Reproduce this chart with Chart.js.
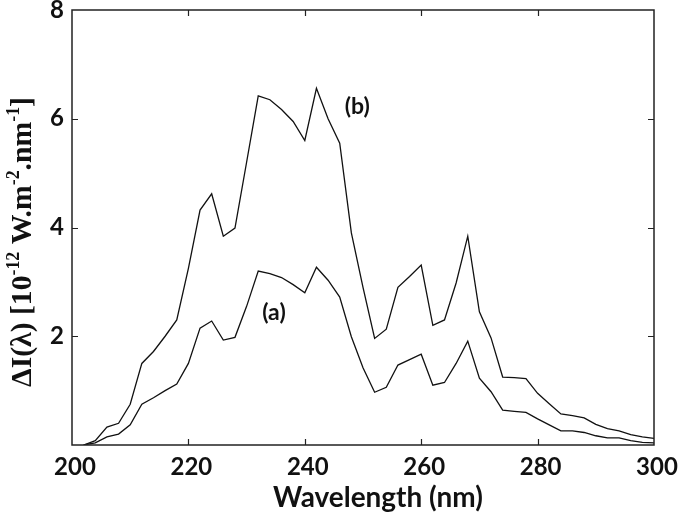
<!DOCTYPE html>
<html>
<head>
<meta charset="utf-8">
<script src="https://cdn.jsdelivr.net/npm/chart.js@4.4.1/dist/chart.umd.min.js"></script>
<style>
  html, body { margin: 0; padding: 0; background: #fff; }
  canvas { display: block; }
</style>
</head>
<body>
<canvas id="spectrum" width="685" height="515"></canvas>
<script>
// wavelength grid (nm)
const wavelength = [202, 204, 206, 208, 210, 212, 214, 216, 218, 220, 222, 224, 226, 228, 230,
    232, 234, 236, 238, 240, 242, 244, 246, 248, 250, 252, 254, 256, 258, 260, 262, 264, 266,
    268, 270, 272, 274, 276, 278, 280, 282, 284, 286, 288, 290, 292, 294, 296, 298, 300];

// curve (a)
const seriesA = [0, 0.04, 0.15, 0.2, 0.37, 0.75, 0.87, 1.0, 1.12, 1.5, 2.15, 2.28, 1.93, 1.98, 2.55,
    3.2, 3.15, 3.08, 2.95, 2.8, 3.27, 3.03, 2.72, 1.99, 1.42, 0.97, 1.06, 1.47, 1.57, 1.67, 1.1, 1.15, 1.5,
    1.91, 1.23, 0.98, 0.64, 0.62, 0.6, 0.48, 0.37, 0.26, 0.26, 0.23, 0.17, 0.13, 0.13, 0.08, 0.05, 0.04];

// curve (b)
const seriesB = [0, 0.08, 0.33, 0.4, 0.75, 1.5, 1.72, 2.0, 2.3, 3.25, 4.32, 4.62, 3.84, 3.99, 5.2,
    6.42, 6.35, 6.17, 5.95, 5.6, 6.56, 6.0, 5.55, 3.9, 2.9, 1.96, 2.13, 2.9, 3.1, 3.31, 2.2, 2.3, 2.98,
    3.84, 2.45, 1.97, 1.25, 1.24, 1.22, 0.95, 0.76, 0.57, 0.54, 0.5, 0.38, 0.3, 0.26, 0.19, 0.15, 0.12];

const xTicks = [200, 220, 240, 260, 280, 300];
const yTicks = [2, 4, 6, 8];

// curve labels, placed in data units
const curveLabels = [
    { text: '(b)', x: 249, y: 6.23 },
    { text: '(a)', x: 234.7, y: 2.44 }
];

const INK = '#111';
const SANS = 'Lato, "Open Sans", sans-serif';
const SERIF = '"Liberation Serif", "Times New Roman", serif';

// font size that makes a run of [text, isSuperscript] parts span the given width
function fitRuns(ctx, parts, weight, family, width) {
    const probe = 20;
    let w = 0;
    parts.forEach(([t, s]) => {
        ctx.font = weight + ' ' + (s ? probe * 0.6 : probe) + 'px ' + family;
        w += ctx.measureText(t).width;
    });
    return probe * width / w;
}

// frame, inward ticks, curve labels and axis titles
const framePlugin = {
    id: 'frame',
    afterDatasetsDraw(chart) {
        const { ctx, chartArea: a, scales: { x, y } } = chart;
        ctx.save();
        ctx.strokeStyle = '#222';
        ctx.lineWidth = 1.5;
        ctx.strokeRect(a.left, a.top, a.right - a.left, a.bottom - a.top);

        ctx.lineWidth = 1.2;
        ctx.beginPath();
        xTicks.slice(1, -1).forEach(v => {
            const px = Math.round(x.getPixelForValue(v)) + 0.5;
            ctx.moveTo(px, a.bottom); ctx.lineTo(px, a.bottom - 6);
            ctx.moveTo(px, a.top);    ctx.lineTo(px, a.top + 6);
        });
        yTicks.slice(0, -1).forEach(v => {
            const py = Math.round(y.getPixelForValue(v)) + 0.5;
            ctx.moveTo(a.left, py);  ctx.lineTo(a.left + 6, py);
            ctx.moveTo(a.right, py); ctx.lineTo(a.right - 6, py);
        });
        ctx.stroke();

        ctx.fillStyle = INK;
        ctx.font = 'bold 23px ' + SANS;
        ctx.textAlign = 'center';
        ctx.textBaseline = 'middle';
        curveLabels.forEach(l => {
            ctx.fillText(l.text, x.getPixelForValue(l.x), y.getPixelForValue(l.y));
        });
        ctx.restore();
    },
    afterDraw(chart) {
        const { ctx } = chart;
        ctx.save();
        ctx.fillStyle = INK;

        // x title
        const xTitle = [['Wavelength (nm)', false]];
        const xs = fitRuns(ctx, xTitle, 'bold', SANS, 210);
        ctx.font = 'bold ' + xs + 'px ' + SANS;
        ctx.textAlign = 'center';
        ctx.textBaseline = 'alphabetic';
        ctx.fillText(xTitle[0][0], 378, 507);

        // y title with superscripts
        const parts = [
            ['ΔI(λ) [10', false], ['-12', true], [' W.m', false], ['-2', true],
            ['.nm', false], ['-1', true], [']', false]
        ];
        const base = fitRuns(ctx, parts, 'bold', SERIF, 290);
        let total = 0;
        parts.forEach(([t, s]) => {
            ctx.font = 'bold ' + (s ? base * 0.6 : base) + 'px ' + SERIF;
            total += ctx.measureText(t).width;
        });
        ctx.translate(31, 242);
        ctx.rotate(-Math.PI / 2);
        ctx.textAlign = 'left';
        let cx = -total / 2;
        parts.forEach(([t, s]) => {
            ctx.font = 'bold ' + (s ? base * 0.6 : base) + 'px ' + SERIF;
            ctx.fillText(t, cx, s ? -base * 0.42 : 0);
            cx += ctx.measureText(t).width;
        });
        ctx.restore();
    }
};

const tickFont = { family: SANS, size: 24, weight: 'bold' };

new Chart(document.getElementById('spectrum'), {
    type: 'line',
    data: {
        datasets: [
            {
                label: '(b)',
                data: wavelength.map((w, i) => ({ x: w, y: seriesB[i] })),
                borderColor: INK,
                borderWidth: 1.3,
                pointRadius: 0,
                tension: 0,
                fill: false
            },
            {
                label: '(a)',
                data: wavelength.map((w, i) => ({ x: w, y: seriesA[i] })),
                borderColor: INK,
                borderWidth: 1.3,
                pointRadius: 0,
                tension: 0,
                fill: false
            }
        ]
    },
    options: {
        responsive: false,
        animation: false,
        devicePixelRatio: 1,
        layout: { padding: { top: 10, right: 31, left: 0, bottom: 0 } },
        plugins: { legend: { display: false }, tooltip: { enabled: false } },
        scales: {
            x: {
                type: 'linear',
                min: 200,
                max: 300,
                afterBuildTicks: s => { s.ticks = xTicks.map(v => ({ value: v })); },
                ticks: { font: tickFont, color: INK, padding: 8, labelOffset: 3, maxRotation: 0 },
                grid: { display: false, drawTicks: false },
                border: { display: false },
                afterFit: s => { s.height = 70; s.paddingLeft = 0; s.paddingRight = 0; }
            },
            y: {
                min: 0,
                max: 8,
                afterBuildTicks: s => { s.ticks = yTicks.map(v => ({ value: v })); },
                ticks: { font: tickFont, color: INK, padding: 8 },
                grid: { display: false, drawTicks: false },
                border: { display: false },
                afterFit: s => { s.width = 72; s.paddingTop = 0; s.paddingBottom = 0; }
            }
        }
    },
    plugins: [framePlugin]
});
</script>
</body>
</html>
